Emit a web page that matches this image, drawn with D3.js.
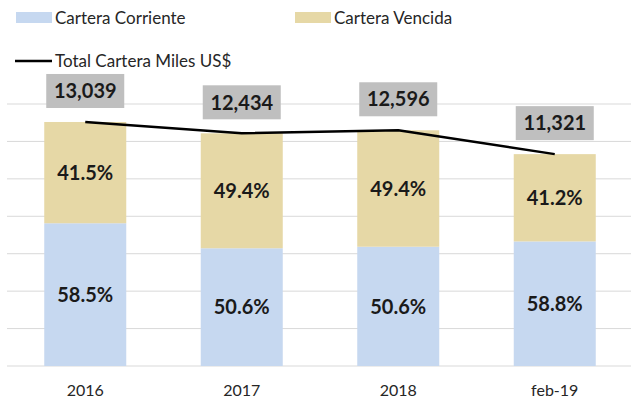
<!DOCTYPE html>
<html>
<head>
<meta charset="utf-8">
<script src="https://cdn.jsdelivr.net/npm/d3@7"></script>
<style>
  body { margin: 0; background: #fff; }
  svg { display: block; font-family: Lato, "Open Sans", sans-serif; }
</style>
</head>
<body>
<div id="chart"></div>
<script>
// Cartera corriente / vencida

const categories = ['2016', '2017', '2018', 'feb-19'];
const totals = [13039, 12434, 12596, 11321];
const corrientePct = [58.5, 50.6, 50.6, 58.8];
const vencidaPct = [41.5, 49.4, 49.4, 41.2];
const yTicks = [0, 2000, 4000, 6000, 8000, 10000, 12000, 14000];

const W = 631, H = 400;
const plot = { left: 7, right: 633, top: 104, bottom: 366 };

const svg = d3.select('#chart').append('svg')
    .attr('width', W)
    .attr('height', H);

const x = d3.scaleBand()
    .domain(categories)
    .range([plot.left, plot.right])
    .paddingInner(0.476)
    .paddingOuter(0.238);

const y = d3.scaleLinear()
    .domain([0, 14000])
    .range([plot.bottom, plot.top]);

const data = categories.map((c, i) => ({
    cat: c,
    total: totals[i],
    cor: totals[i] * corrientePct[i] / 100,
    corPct: corrientePct[i],
    venPct: vencidaPct[i]
}));

// Grid
svg.append('g')
    .selectAll('line')
    .data(yTicks)
    .enter()
    .append('line')
    .attr('x1', plot.left)
    .attr('x2', W)
    .attr('y1', d => y(d))
    .attr('y2', d => y(d))
    .attr('stroke', '#d9d9d9')
    .attr('stroke-width', 1);

// Bars
const bars = svg.append('g');

bars.selectAll('.cor')
    .data(data)
    .enter()
    .append('rect')
    .attr('x', d => x(d.cat))
    .attr('width', x.bandwidth())
    .attr('y', d => y(d.cor))
    .attr('height', d => y(0) - y(d.cor))
    .attr('fill', '#c6d8f0');

bars.selectAll('.ven')
    .data(data)
    .enter()
    .append('rect')
    .attr('x', d => x(d.cat))
    .attr('width', x.bandwidth())
    .attr('y', d => y(d.total))
    .attr('height', d => y(d.cor) - y(d.total))
    .attr('fill', '#e6d8a6');

// Percent labels
const pctLabels = svg.append('g')
    .attr('font-size', '20px')
    .attr('font-weight', 'bold')
    .attr('fill', '#1a1a1a')
    .attr('text-anchor', 'middle');

pctLabels.selectAll('.lc')
    .data(data)
    .enter()
    .append('text')
    .attr('x', d => x(d.cat) + x.bandwidth() / 2)
    .attr('y', d => (y(0) + y(d.cor)) / 2)
    .attr('dy', '0.36em')
    .text(d => d.corPct.toFixed(1) + '%');

pctLabels.selectAll('.lv')
    .data(data)
    .enter()
    .append('text')
    .attr('x', d => x(d.cat) + x.bandwidth() / 2)
    .attr('y', d => (y(d.cor) + y(d.total)) / 2)
    .attr('dy', '0.36em')
    .text(d => d.venPct.toFixed(1) + '%');

// Total line
const line = d3.line()
    .x(d => x(d.cat) + x.bandwidth() / 2)
    .y(d => y(d.total));

svg.append('path')
    .datum(data)
    .attr('fill', 'none')
    .attr('stroke', '#000')
    .attr('stroke-width', 2.5)
    .attr('stroke-linejoin', 'round')
    .attr('d', line);

// Total labels in grey boxes
const totLabels = svg.append('g')
    .selectAll('g')
    .data(data)
    .enter()
    .append('g')
    .attr('transform', d => `translate(${x(d.cat) + x.bandwidth() / 2},${y(d.total) - 14})`);

totLabels.append('rect')
    .attr('x', -39)
    .attr('y', -34)
    .attr('width', 78)
    .attr('height', 34)
    .attr('fill', '#bfbfbf');

totLabels.append('text')
    .attr('y', -17)
    .attr('dy', '0.36em')
    .attr('text-anchor', 'middle')
    .attr('font-size', '20px')
    .attr('font-weight', 'bold')
    .attr('fill', '#1a1a1a')
    .text(d => d3.format(',')(d.total));

// X axis labels
svg.append('g')
    .selectAll('text')
    .data(categories)
    .enter()
    .append('text')
    .attr('x', d => x(d) + x.bandwidth() / 2)
    .attr('y', 390)
    .attr('dy', '0.36em')
    .attr('text-anchor', 'middle')
    .attr('font-size', '16px')
    .attr('fill', '#262626')
    .text(d => d);

// Legend
const legend = svg.append('g')
    .attr('font-size', '17px')
    .attr('fill', '#262626');

legend.append('rect')
    .attr('x', 16).attr('y', 12).attr('width', 36).attr('height', 11)
    .attr('fill', '#c6d8f0');
legend.append('text')
    .attr('x', 55).attr('y', 18).attr('dy', '0.36em')
    .text('Cartera Corriente');

legend.append('rect')
    .attr('x', 295).attr('y', 12).attr('width', 36).attr('height', 11)
    .attr('fill', '#e6d8a6');
legend.append('text')
    .attr('x', 334).attr('y', 18).attr('dy', '0.36em')
    .text('Cartera Vencida');

legend.append('line')
    .attr('x1', 15).attr('x2', 52).attr('y1', 61).attr('y2', 61)
    .attr('stroke', '#000').attr('stroke-width', 2.5);
legend.append('text')
    .attr('x', 55).attr('y', 61).attr('dy', '0.36em')
    .text('Total Cartera Miles US$');
</script>
</body>
</html>
